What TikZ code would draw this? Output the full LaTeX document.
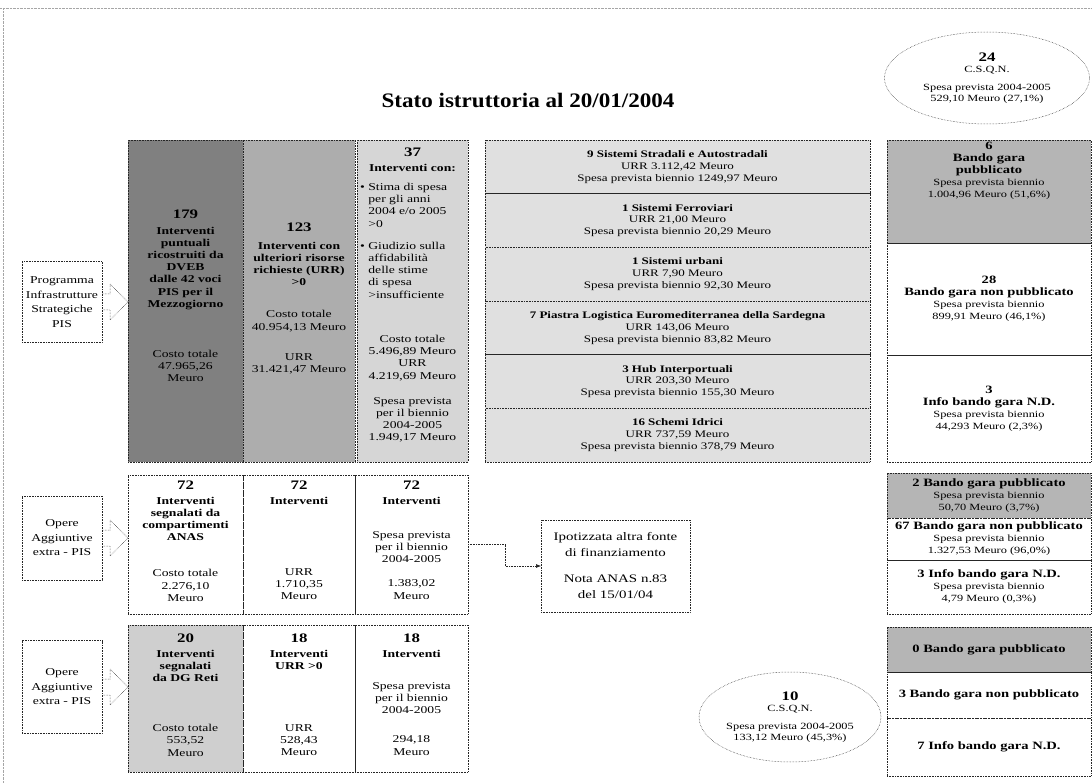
\documentclass[tikz,border=0pt]{standalone}
\usepackage{fontspec}
\setmainfont{Liberation Serif}[FakeStretch=1.3]
\newfontfamily\titlefont{Liberation Serif}[FakeStretch=1.12]
\usetikzlibrary{arrows.meta, positioning, shapes.geometric, calc}
\definecolor{grDark}{gray}{0.50}
\definecolor{grMid}{gray}{0.68}
\definecolor{grLight}{gray}{0.84}
\definecolor{grHatch}{gray}{0.88}
\definecolor{grBando}{gray}{0.71}
\definecolor{grReti}{gray}{0.81}
\definecolor{dotLine}{gray}{0.15}
\newcommand{\fsCol}{\fontsize{10.5}{12.2}\selectfont}
\newcommand{\fsRow}{\fontsize{10}{11.8}\selectfont}
\newcommand{\fsRight}{\fontsize{9.5}{12}\selectfont}
\newcommand{\fsHead}{\bfseries\fontsize{11.2}{12}\selectfont}
\newcommand{\fsLbl}{\fontsize{10.5}{14.5}\selectfont}
\newcommand{\bigNum}{\bfseries\fontsize{13}{14}\selectfont}
\tikzset{
  cell/.style={rectangle, draw=dotLine, densely dotted, line width=0.6pt,
    inner sep=0pt, outer sep=0pt, align=center},
  colTxt/.style={font=\fsCol, align=center, inner sep=0pt},
  rowCell/.style={cell, fill=grHatch, minimum width=385, minimum height=53.67, font=\fsRow},
  rightCell/.style={cell, minimum width=204, font=\fsRight},
  lblBox/.style={cell, minimum width=80, font=\fsLbl},
  oval/.style={ellipse, draw=dotLine, densely dotted, line width=0.5pt,
    inner sep=0pt, align=center, font=\fontsize{9.5}{11.5}\selectfont},
  blockArr/.style={draw=dotLine, densely dotted, line width=0.5pt, line join=miter},
  conn/.style={-{Latex[length=5pt,width=4pt]}, draw=dotLine, densely dotted, line width=0.6pt},
}
\begin{document}
\begin{tikzpicture}[x=1pt, y=-1pt]
\useasboundingbox (0,0) rectangle (1092,783);

%% ── FRAME + TITLE ───────────────────────────────────────
\draw[gray!70, densely dotted, line width=0.4pt] (0,8) -- (1092,8);
\draw[gray!70, densely dotted, line width=0.4pt] (3,8) -- (3,783);
\node[font=\titlefont\bfseries\fontsize{20.6}{24}\selectfont] (title) at (528,100)
  {Stato istruttoria al 20/01/2004};

\node[oval, minimum width=205, minimum height=92] (q24) at (987,78)
  {{\bigNum 24}\\C.S.Q.N.\\[6pt]Spesa prevista 2004-2005\\529,10 Meuro (27,1\%)};

%% ── PIS ─────────────────────────────────────────────────
\node[lblBox, minimum height=81] (pis) at (62,302)
  {Programma\\Infrastrutture\\Strategiche\\PIS};

\node[cell, fill=grDark, minimum width=115, minimum height=322] (c179) at (185.5,301) {};
\node[cell, fill=grMid, minimum width=112, minimum height=322, right=0pt of c179] (c123) {};
\node[cell, fill=grLight, minimum width=111, minimum height=322, right=2pt of c123] (c37) {};

\draw[blockArr] ($(pis.east)+(0,-8)$) -- ++(8,0) -- ++(0,-10) -- (c179.west |- pis.east)
  -- ($(pis.east)+(8,18)$) -- ++(0,-10) -- ($(pis.east)+(0,8)$);

\node[colTxt, anchor=north] (t179) at (c179.north |- 0,210)
  {{\bigNum 179}\\[3pt]
   \textbf{Interventi}\\\textbf{puntuali}\\\textbf{ricostruiti da}\\\textbf{DVEB}\\
   \textbf{dalle 42 voci}\\\textbf{PIS per il}\\\textbf{Mezzogiorno}\\[38pt]
   Costo totale\\47.965,26\\Meuro};
\node[colTxt, anchor=north] (t123) at (c123.north |- 0,223)
  {{\bigNum 123}\\[5pt]
   \textbf{Interventi con}\\\textbf{ulteriori risorse}\\\textbf{richieste (URR)}\\\textbf{>0}\\[20pt]
   Costo totale\\40.954,13 Meuro\\[18pt]
   URR\\31.421,47 Meuro};
\node[colTxt, anchor=north] (t37) at (c37.north |- 0,148)
  {{\bigNum 37}\\[2pt]\textbf{Interventi con:}};
\node[colTxt, align=left, anchor=north west] (t37b) at (360,183)
  {\textbullet\ Stima di spesa\\\phantom{\textbullet\ }per gli anni\\
   \phantom{\textbullet\ }2004 e/o 2005\\\phantom{\textbullet\ }>0\\[10pt]
   \textbullet\ Giudizio sulla\\\phantom{\textbullet\ }affidabilità\\
   \phantom{\textbullet\ }delle stime\\\phantom{\textbullet\ }di spesa\\
   \phantom{\textbullet\ }>insufficiente};
\node[colTxt, anchor=north] (t37c) at (c37.north |- 0,335)
  {Costo totale\\5.496,89 Meuro\\URR\\4.219,69 Meuro\\[13pt]
   Spesa prevista\\per il biennio\\2004-2005\\1.949,17 Meuro};

%% ── SETTORI ─────────────────────────────────────────────
\node[rowCell] (r1) at (677.5,166.8)
  {\textbf{9 Sistemi Stradali e Autostradali}\\URR 3.112,42 Meuro\\Spesa prevista biennio 1249,97 Meuro};
\node[rowCell, below=0pt of r1] (r2)
  {\textbf{1 Sistemi Ferroviari}\\URR 21,00 Meuro\\Spesa prevista biennio 20,29 Meuro};
\node[rowCell, below=0pt of r2] (r3)
  {\textbf{1 Sistemi urbani}\\URR 7,90 Meuro\\Spesa prevista biennio 92,30 Meuro};
\node[rowCell, below=0pt of r3] (r4)
  {\textbf{7 Piastra Logistica Euromediterranea della Sardegna}\\URR 143,06 Meuro\\Spesa prevista biennio 83,82 Meuro};
\node[rowCell, below=0pt of r4] (r5)
  {\textbf{3 Hub Interportuali}\\URR 203,30 Meuro\\Spesa prevista biennio 155,30 Meuro};
\node[rowCell, below=0pt of r5] (r6)
  {\textbf{16 Schemi Idrici}\\URR 737,59 Meuro\\Spesa prevista biennio 378,79 Meuro};

%% ── BANDI PIS ───────────────────────────────────────────
\node[rightCell, fill=grBando, minimum height=103] (rt1) at (989,191.5) {};
\node[font=\fsRight, align=center, inner sep=0pt, anchor=north] (rt1t) at (989,142)
  {{\fsHead 6}\\{\fsHead Bando gara}\\{\fsHead pubblicato}\\Spesa prevista biennio\\1.004,96 Meuro (51,6\%)};
\node[rightCell, minimum height=112, below=0pt of rt1] (rt2)
  {{\fsHead 28}\\{\fsHead Bando gara non pubblicato}\\Spesa prevista biennio\\899,91 Meuro (46,1\%)};
\node[rightCell, minimum height=107, below=0pt of rt2] (rt3)
  {{\fsHead 3}\\{\fsHead Info bando gara N.D.}\\Spesa prevista biennio\\44,293 Meuro (2,3\%)};

%% ── OPERE AGGIUNTIVE ANAS ───────────────────────────────
\node[lblBox, minimum height=84] (op1) at (62,538) {Opere\\Aggiuntive\\extra - PIS};

\node[cell, minimum width=115, minimum height=139] (s72a) at (185.5,544.5) {};
\node[cell, minimum width=112, minimum height=139, right=0pt of s72a] (s72b) {};
\node[cell, minimum width=113, minimum height=139, right=0pt of s72b] (s72c) {};

\draw[blockArr] ($(op1.east)+(0,-8)$) -- ++(8,0) -- ++(0,-10) -- (s72a.west |- op1.east)
  -- ($(op1.east)+(8,18)$) -- ++(0,-10) -- ($(op1.east)+(0,8)$);

\node[colTxt, anchor=north] (t72a) at (s72a.north |- 0,481)
  {{\bigNum 72}\\[2pt]\textbf{Interventi}\\\textbf{segnalati da}\\\textbf{compartimenti}\\\textbf{ANAS}\\[24pt]
   Costo totale\\2.276,10\\Meuro};
\node[colTxt, anchor=north] (t72b) at (s72b.north |- 0,481)
  {{\bigNum 72}\\[2pt]\textbf{Interventi}\\[59pt]URR\\1.710,35\\Meuro};
\node[colTxt, anchor=north] (t72c) at (s72c.north |- 0,481)
  {{\bigNum 72}\\[2pt]\textbf{Interventi}\\[22pt]
   Spesa prevista\\per il biennio\\2004-2005\\[12pt]1.383,02\\Meuro};

\node[cell, minimum width=149, minimum height=92, font=\fontsize{11.5}{16}\selectfont] (ipo) at (615.5,566)
  {Ipotizzata altra fonte\\di finanziamento\\[10pt]Nota ANAS n.83\\del 15/01/04};
\draw[conn] (s72c.east) -- ++(37,0) |- (ipo.west);

\node[rightCell, fill=grBando, minimum height=45] (rm1) at (989,495.5)
  {{\fsHead 2 Bando gara pubblicato}\\Spesa prevista biennio\\50,70 Meuro (3,7\%)};
\node[rightCell, minimum height=42, below=0pt of rm1] (rm2)
  {{\fsHead 67 Bando gara non pubblicato}\\Spesa prevista biennio\\1.327,53 Meuro (96,0\%)};
\node[rightCell, minimum height=54, below=0pt of rm2] (rm3)
  {{\fsHead 3 Info bando gara N.D.}\\Spesa prevista biennio\\4,79 Meuro (0,3\%)};

%% ── OPERE AGGIUNTIVE DG RETI ────────────────────────────
\node[lblBox, minimum height=93] (op2) at (62,687) {Opere\\Aggiuntive\\extra - PIS};

\node[cell, fill=grReti, minimum width=115, minimum height=147] (b20) at (185.5,698.5) {};
\node[cell, minimum width=112, minimum height=147, right=0pt of b20] (b18a) {};
\node[cell, minimum width=113, minimum height=147, right=0pt of b18a] (b18b) {};

\draw[blockArr] ($(op2.east)+(0,-8)$) -- ++(8,0) -- ++(0,-10) -- (b20.west |- op2.east)
  -- ($(op2.east)+(8,18)$) -- ++(0,-10) -- ($(op2.east)+(0,8)$);

\node[colTxt, anchor=north] (t20) at (b20.north |- 0,634)
  {{\bigNum 20}\\[2pt]\textbf{Interventi}\\\textbf{segnalati}\\\textbf{da DG Reti}\\[38pt]
   Costo totale\\553,52\\Meuro};
\node[colTxt, anchor=north] (t18a) at (b18a.north |- 0,634)
  {{\bigNum 18}\\[2pt]\textbf{Interventi}\\\textbf{URR >0}\\[50pt]URR\\528,43\\Meuro};
\node[colTxt, anchor=north] (t18b) at (b18b.north |- 0,634)
  {{\bigNum 18}\\[2pt]\textbf{Interventi}\\[20pt]
   Spesa prevista\\per il biennio\\2004-2005\\[17pt]294,18\\Meuro};

\node[oval, minimum width=182, minimum height=90] (q10) at (790,717)
  {{\bigNum 10}\\C.S.Q.N.\\[6pt]Spesa prevista 2004-2005\\133,12 Meuro (45,3\%)};

\node[rightCell, fill=grBando, minimum height=45, font=\fsHead] (rb1) at (989,649.5)
  {0 Bando gara pubblicato};
\node[rightCell, minimum height=46, below=0pt of rb1, font=\fsHead] (rb2)
  {3 Bando gara non pubblicato};
\node[rightCell, minimum height=58, below=0pt of rb2, font=\fsHead] (rb3)
  {7 Info bando gara N.D.};

\end{tikzpicture}
\end{document}
